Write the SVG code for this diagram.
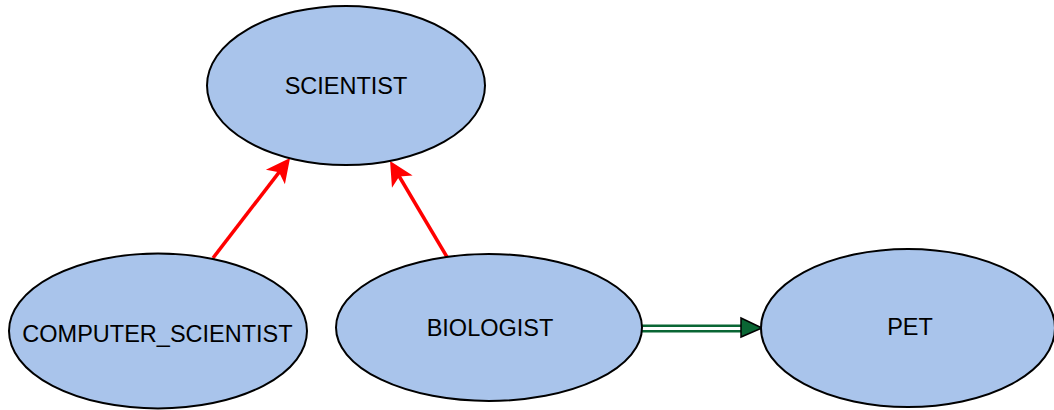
<svg xmlns="http://www.w3.org/2000/svg" width="1054" height="410" viewBox="0 0 1054 410">
<style>
.node{fill:#a9c4eb;stroke:#000;stroke-width:2}
.lbl{font-family:"Liberation Sans",Arial,sans-serif;font-size:23.5px;fill:#000;text-anchor:middle}
.red{fill:none;stroke:#ff0000;stroke-width:3.5}
</style>
<defs>
<marker id="redArrow" markerUnits="userSpaceOnUse" markerWidth="26" markerHeight="26" refX="10" refY="12" orient="auto" overflow="visible">
<path d="M0,0 L24,12 L0,24 L6,12 Z" fill="#ff0000"/>
</marker>
</defs>
<g id="connectors">
<path class="red" d="M213,258 L281.5,169.1" marker-end="url(#redArrow)"/>
<path class="red" d="M447,257 L397.2,173" marker-end="url(#redArrow)"/>
<path d="M642,328.5 L743,328.5" fill="none" stroke="#0a6634" stroke-width="8"/>
<path d="M642,328.5 L743,328.5" fill="none" stroke="#ffffff" stroke-width="3"/>
<polygon points="741,318 762,328 741,337" fill="#0a6634" stroke="#000" stroke-width="1.5"/>
</g>
<g id="scientist">
<ellipse class="node" cx="346" cy="85.5" rx="139" ry="79.5"/>
<text class="lbl" x="346" y="94">SCIENTIST</text>
</g>
<g id="computer_scientist">
<ellipse class="node" cx="158" cy="331" rx="149" ry="77.5"/>
<text class="lbl" x="157.5" y="341.5">COMPUTER_SCIENTIST</text>
</g>
<g id="biologist">
<ellipse class="node" cx="489" cy="327.5" rx="153" ry="73.5"/>
<text class="lbl" x="490" y="336">BIOLOGIST</text>
</g>
<g id="pet">
<ellipse class="node" cx="908" cy="328" rx="147" ry="79"/>
<text class="lbl" x="910" y="335">PET</text>
</g>
</svg>
